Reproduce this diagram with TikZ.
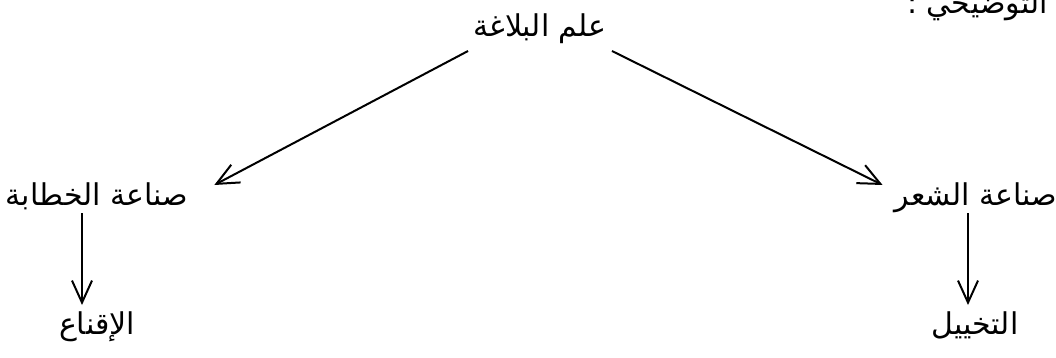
\documentclass[tikz,border=0pt]{standalone}
\usepackage{fontspec}
\newfontfamily\arabicfont[Script=Arabic]{DejaVu Sans}
\TeXXeTstate=1
\usetikzlibrary{arrows.meta}

\begin{document}
\begin{tikzpicture}[x=1pt,y=-1pt,>={Straight Barb[length=22pt,width=20pt]},
  lbl/.style={inner sep=1pt,anchor=base,font=\arabicfont\fontsize{30}{35}\selectfont},
  link/.style={->,line width=2pt}]
  \fill[white] (0,0) rectangle (1056,358);
  \useasboundingbox (0,0) rectangle (1056,358);
  % cut line at the top
  \node[lbl,anchor=base west] (note) at (906,14) {\beginR الشكل التوضيحي :\endR};
  % tree
  \node[lbl] (ilm) at (540,37) {\beginR علم البلاغة\endR};
  \node[lbl] (khitaba) at (97,205) {\beginR صناعة الخطابة\endR};
  \node[lbl] (shier) at (976,205) {\beginR صناعة الشعر\endR};
  \node[lbl] (iqnaa) at (97,334) {\beginR الإقناع\endR};
  \node[lbl] (takhyil) at (975,334) {\beginR التخييل\endR};
  \draw[link] ([xshift=-4pt,yshift=-14pt]ilm.base west) -- ([xshift=25pt,yshift=20pt]khitaba.base east);
  \draw[link] ([xshift=4pt,yshift=-14pt]ilm.base east) -- ([xshift=-11pt,yshift=20pt]shier.base west);
  \draw[link] ([xshift=-15pt,yshift=-8pt]khitaba.base) -- ([xshift=-15pt,yshift=29pt]iqnaa.base);
  \draw[link] ([xshift=-8pt,yshift=-8pt]shier.base) -- ([xshift=-7pt,yshift=29pt]takhyil.base);
\end{tikzpicture}
\end{document}
